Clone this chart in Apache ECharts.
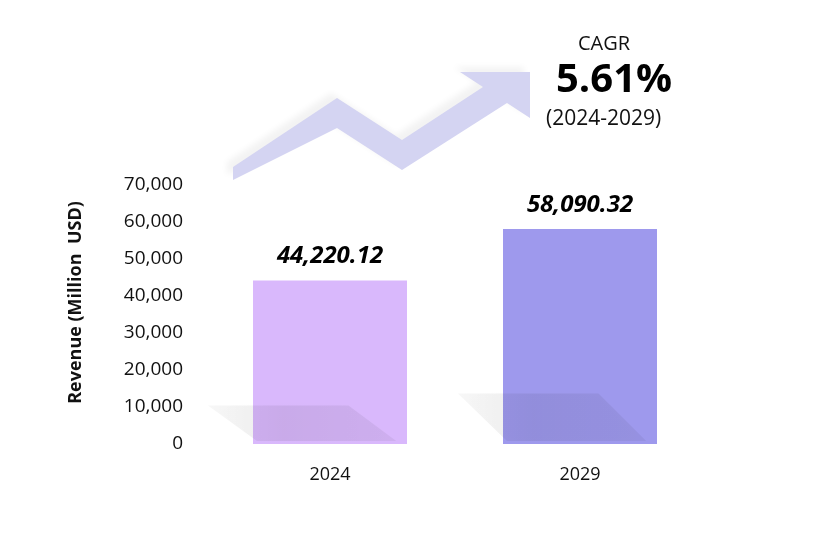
<!DOCTYPE html>
<html>
<head>
<meta charset="utf-8">
<script src="https://cdn.jsdelivr.net/npm/echarts@6/dist/echarts.min.js"></script>
<style>
html,body{margin:0;padding:0;background:#fff;}
#chart{width:820px;height:538px;}
</style>
</head>
<body>
<div id="chart"></div>
<script>
var categories = ['2024', '2029'];
var revenue = [44220.12, 58090.32];
var barColors = ['#d9b8fc', '#9e99ed'];
var yTicks = { min: 0, max: 70000, interval: 10000 };
var cagrTitle = 'CAGR';
var cagrValue = '5.61%';
var cagrPeriod = '(2024-2029)';
var yAxisName = 'Revenue (Million  USD)';

var FONT = '"Open Sans", "Noto Sans", sans-serif';
var chart = echarts.init(document.getElementById('chart'));

function fmt(v) {
  return v.toLocaleString('en-US', { minimumFractionDigits: 2, maximumFractionDigits: 2 });
}

chart.setOption({
  animation: false,
  backgroundColor: '#ffffff',
  grid: { left: 205, right: 115, top: 185, bottom: 94 },
  xAxis: {
    type: 'category',
    data: categories,
    axisLine: { show: false },
    axisTick: { show: false },
    axisLabel: { color: '#111', fontSize: 18, fontFamily: FONT, margin: 22 }
  },
  yAxis: {
    type: 'value',
    min: yTicks.min, max: yTicks.max, interval: yTicks.interval,
    name: yAxisName,
    nameLocation: 'middle',
    nameGap: 120,
    nameTextStyle: { color: '#111', fontSize: 18, fontWeight: 'bold', fontFamily: FONT, padding: [0, 0, 0, 24] },
    axisLine: { show: false },
    axisTick: { show: false },
    splitLine: { show: false },
    axisLabel: {
      color: '#111', fontSize: 19, fontFamily: FONT, margin: 22,
      formatter: function (v) { return v.toLocaleString('en-US'); }
    }
  },
  graphic: [
    {
      type: 'polygon',
      z: 0,
      shape: {
        points: [[233, 167], [337, 98], [402, 140], [483, 87], [460, 72], [530, 72],
                 [530, 118], [507, 103], [402, 170], [337, 128], [233, 180]]
      },
      style: {
        fill: '#d4d4f2',
        shadowColor: 'rgba(0,0,0,0.05)', shadowBlur: 6, shadowOffsetX: -6, shadowOffsetY: -5
      }
    },
    {
      type: 'text', left: 578, top: 34, z: 10,
      style: { text: cagrTitle, fill: '#111', font: '20px ' + FONT }
    },
    {
      type: 'text', left: 556, top: 61, z: 10,
      style: { text: cagrValue, fill: '#000', font: 'bold 40px ' + FONT }
    },
    {
      type: 'text', left: 546, top: 109, z: 10,
      style: { text: cagrPeriod, fill: '#111', font: '21px ' + FONT }
    }
  ],
  series: [
    {
      type: 'bar',
      data: revenue.map(function (v, i) { return { value: v, itemStyle: { color: barColors[i] } }; }),
      barWidth: 154,
      label: {
        show: true, position: 'top', distance: 12,
        color: '#000', fontSize: 24, fontWeight: 'bold', fontStyle: 'italic', fontFamily: FONT,
        formatter: function (p) { return fmt(p.value); }
      },
      z: 2
    },
    {
      type: 'custom',
      z: 3,
      silent: true,
      data: revenue.map(function (v, i) { return [i, v]; }),
      renderItem: function (params, api) {
        var bottom = api.coord([api.value(0), 0]);
        var top = api.coord([api.value(0), api.value(1)]);
        var bw = api.size([1, 0])[0] * 0.616;
        var left = bottom[0] - bw / 2;
        var b = bottom[1];
        var h = (b - top[1]) * 0.235;
        return {
          type: 'polygon',
          shape: {
            points: [[left - 45, b - h], [left + bw * 0.62, b - h], [left + bw * 0.93, b - 3], [left + 4, b - 3]]
          },
          style: {
            fill: new echarts.graphic.LinearGradient(0, 0, 1, 0, [
              { offset: 0, color: 'rgba(0,0,0,0.03)' },
              { offset: 0.4, color: 'rgba(0,0,0,0.07)' },
              { offset: 1, color: 'rgba(0,0,0,0.05)' }
            ]),
            shadowColor: 'rgba(0,0,0,0.09)', shadowBlur: 14
          }
        };
      }
    }
  ]
});
</script>
</body>
</html>
